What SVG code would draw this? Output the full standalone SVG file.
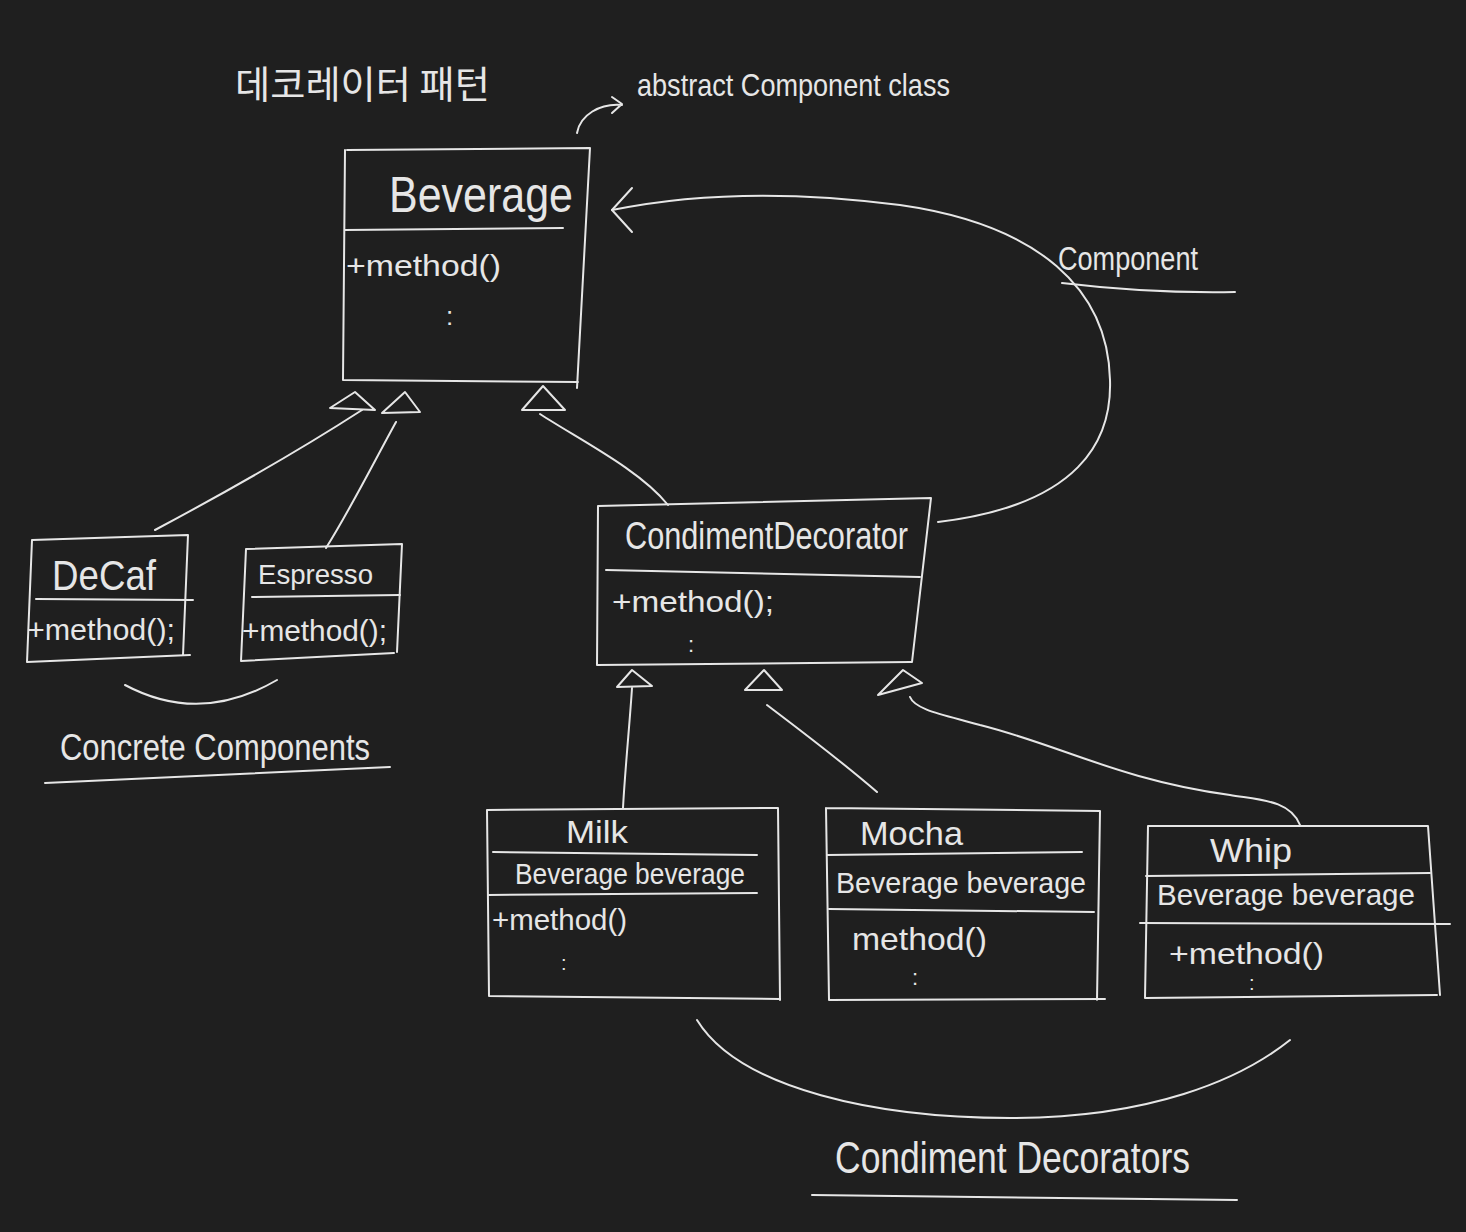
<svg xmlns="http://www.w3.org/2000/svg" width="1466" height="1232" viewBox="0 0 1466 1232">
<style>
.s{fill:none;stroke:#e6e6e6;stroke-width:2;stroke-linecap:round;stroke-linejoin:round}
.t{fill:#e6e6e6;font-family:"Liberation Sans","Noto Sans CJK KR",sans-serif;font-weight:normal}
.k{fill:#e6e6e6;font-family:"Noto Sans CJK KR","Liberation Sans",sans-serif}
</style>
<rect width="1466" height="1232" fill="#1f1f1f"/>
<g id="title">
<text class="k" x="235" y="98" font-size="38" textLength="255" lengthAdjust="spacingAndGlyphs">데코레이터 패턴</text>
</g>
<g id="note-abstract">
<text class="t" x="637" y="96" font-size="32" textLength="313" lengthAdjust="spacingAndGlyphs">abstract Component class</text>
<path class="s" d="M577,133 C580,115 600,103 622,105 M612,97 L622,104 L612,113"/>
</g>
<g id="beverage">
<path class="s" d="M347,150 L590,148 L577,388 M345,150 L343,380 L578,382"/>
<text class="t" x="389" y="212" font-size="50" textLength="184" lengthAdjust="spacingAndGlyphs">Beverage</text>
<path class="s" d="M345,230 L563,228"/>
<text class="t" x="346" y="276" font-size="30" textLength="155" lengthAdjust="spacingAndGlyphs">+method()</text>
<text class="t" x="446" y="325" font-size="26">:</text>
</g>
<g id="decaf">
<path class="s" d="M32,540 L188,535 L183,655 M32,540 L27,662 L190,655"/>
<text class="t" x="52" y="590" font-size="42" textLength="104" lengthAdjust="spacingAndGlyphs">DeCaf</text>
<path class="s" d="M36,599 L193,600"/>
<text class="t" x="27" y="640" font-size="30" textLength="148" lengthAdjust="spacingAndGlyphs">+method();</text>
</g>
<g id="espresso">
<path class="s" d="M246,549 L402,544 L397,652 M246,549 L241,661 L394,653"/>
<text class="t" x="258" y="584" font-size="28" textLength="115" lengthAdjust="spacingAndGlyphs">Espresso</text>
<path class="s" d="M252,597 L400,595"/>
<text class="t" x="242" y="641" font-size="30" textLength="145" lengthAdjust="spacingAndGlyphs">+method();</text>
</g>
<g id="label-concrete">
<path class="s" d="M125,685 Q200,725 277,680"/>
<text class="t" x="60" y="760" font-size="36" textLength="310" lengthAdjust="spacingAndGlyphs">Concrete Components</text>
<path class="s" d="M45,783 L390,767"/>
</g>
<g id="condiment-decorator">
<path class="s" d="M598,506 L931,498 L912,662 M598,506 L597,665 L911,662"/>
<text class="t" x="625" y="549" font-size="38" textLength="283" lengthAdjust="spacingAndGlyphs">CondimentDecorator</text>
<path class="s" d="M606,570 L920,577"/>
<text class="t" x="612" y="612" font-size="30" textLength="162" lengthAdjust="spacingAndGlyphs">+method();</text>
<text class="t" x="688" y="652" font-size="22">:</text>
</g>
<g id="milk">
<path class="s" d="M487,810 L778,808 L780,1000 M487,810 L489,996 L780,999"/>
<text class="t" x="566" y="843" font-size="32" textLength="62" lengthAdjust="spacingAndGlyphs">Milk</text>
<path class="s" d="M493,852 L757,855"/>
<text class="t" x="515" y="884" font-size="30" textLength="230" lengthAdjust="spacingAndGlyphs">Beverage beverage</text>
<path class="s" d="M488,895 L757,893"/>
<text class="t" x="492" y="930" font-size="30" textLength="135" lengthAdjust="spacingAndGlyphs">+method()</text>
<text class="t" x="561" y="970" font-size="20">:</text>
</g>
<g id="mocha">
<path class="s" d="M826,808 L1100,811 L1097,1000 M826,808 L829,1000 L1105,999"/>
<text class="t" x="860" y="845" font-size="34" textLength="103" lengthAdjust="spacingAndGlyphs">Mocha</text>
<path class="s" d="M827,855 L1082,852"/>
<text class="t" x="836" y="893" font-size="30" textLength="250" lengthAdjust="spacingAndGlyphs">Beverage beverage</text>
<path class="s" d="M829,909 L1094,912"/>
<text class="t" x="852" y="950" font-size="32" textLength="135" lengthAdjust="spacingAndGlyphs">method()</text>
<text class="t" x="912" y="985" font-size="22">:</text>
</g>
<g id="whip">
<path class="s" d="M1148,826 L1428,826 L1440,995 M1148,826 L1145,998 L1437,995"/>
<text class="t" x="1210" y="862" font-size="34" textLength="82" lengthAdjust="spacingAndGlyphs">Whip</text>
<path class="s" d="M1146,876 L1430,873"/>
<text class="t" x="1157" y="905" font-size="30" textLength="258" lengthAdjust="spacingAndGlyphs">Beverage beverage</text>
<path class="s" d="M1140,923 L1450,924"/>
<text class="t" x="1169" y="964" font-size="30" textLength="155" lengthAdjust="spacingAndGlyphs">+method()</text>
<text class="t" x="1249" y="990" font-size="20">:</text>
</g>
<g id="label-component">
<text class="t" x="1058" y="270" font-size="34" textLength="140" lengthAdjust="spacingAndGlyphs">Component</text>
<path class="s" d="M1062,283 C1120,290 1180,293 1235,292"/>
</g>
<g id="label-decorators">
<path class="s" d="M697,1020 C740,1090 880,1118 1010,1118 C1150,1118 1240,1080 1290,1040"/>
<text class="t" x="835" y="1173" font-size="44" textLength="355" lengthAdjust="spacingAndGlyphs">Condiment Decorators</text>
<path class="s" d="M812,1195 L1237,1200"/>
</g>
<g id="connectors">
<path class="s" d="M155,530 C230,490 300,450 362,410"/>
<path class="s" d="M355,392 L330,408 L375,410 Z"/>
<path class="s" d="M326,548 C350,510 375,460 396,422"/>
<path class="s" d="M405,392 L382,413 L420,412 Z"/>
<path class="s" d="M668,505 C640,470 580,440 540,414"/>
<path class="s" d="M543,386 L522,410 L565,410 Z"/>
<path class="s" d="M623,808 C625,770 630,720 632,688"/>
<path class="s" d="M632,670 L617,687 L652,686 Z"/>
<path class="s" d="M877,792 C840,760 800,730 767,705"/>
<path class="s" d="M764,670 L745,690 L782,690 Z"/>
<path class="s" d="M1300,825 C1290,800 1260,800 1230,795 C1120,780 1060,745 980,725 C945,715 915,710 910,697"/>
<path class="s" d="M903,670 L878,695 L922,683 Z"/>
<path class="s" d="M938,522 C1080,505 1112,440 1110,380 C1108,290 1040,225 900,205 C800,192 700,192 612,210"/>
<path class="s" d="M632,188 L612,210 L632,232"/>
</g>
</svg>
